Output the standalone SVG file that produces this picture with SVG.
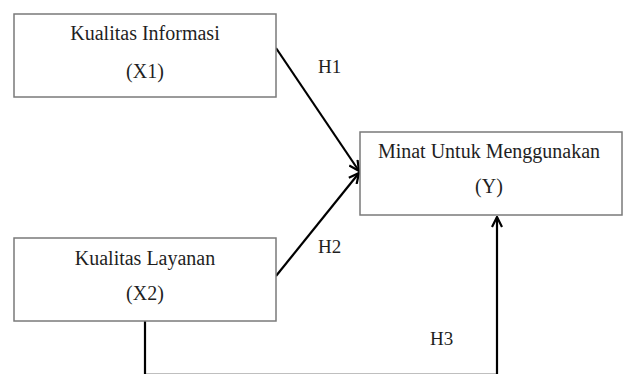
<svg xmlns="http://www.w3.org/2000/svg" width="625" height="374" viewBox="0 0 625 374">
<style>
.box{fill:#fff;stroke:#7a7a7a;stroke-width:1.5}
.t{font-family:"Liberation Serif","Times New Roman",serif;font-size:20px;fill:#1f1f1f;text-anchor:middle}
.lbl{font-family:"Liberation Serif","Times New Roman",serif;font-size:19px;fill:#1f1f1f}
.c{fill:none;stroke:#000;stroke-width:2.2}
</style>
<defs>
<marker id="arr" viewBox="0 0 12 12" refX="11" refY="6" markerWidth="12" markerHeight="12" markerUnits="userSpaceOnUse" orient="auto">
<path d="M1,1 L11,6 L1,11" fill="none" stroke="#000" stroke-width="2.2"/>
</marker>
</defs>
<rect width="625" height="374" fill="#fff"/>
<g id="connectors">
<path class="c" d="M276,48 L359,171" marker-end="url(#arr)"/>
<path class="c" d="M276,276 L359,173" marker-end="url(#arr)"/>
<path class="c" d="M145,321 V374.8 H497 V217" marker-end="url(#arr)"/>
<text class="lbl" x="318" y="73">H1</text>
<text class="lbl" x="318" y="253">H2</text>
<text class="lbl" x="430" y="345">H3</text>
</g>
<g id="x1">
<rect class="box" x="14" y="14" width="262" height="83"/>
<text class="t" x="145" y="40">Kualitas Informasi</text>
<text class="t" x="145" y="78">(X1)</text>
</g>
<g id="y">
<rect class="box" x="360" y="132" width="262" height="83"/>
<text class="t" x="489" y="158">Minat Untuk Menggunakan</text>
<text class="t" x="489" y="193">(Y)</text>
</g>
<g id="x2">
<rect class="box" x="14" y="238" width="262" height="83"/>
<text class="t" x="145" y="265">Kualitas Layanan</text>
<text class="t" x="145" y="300">(X2)</text>
</g>
</svg>
